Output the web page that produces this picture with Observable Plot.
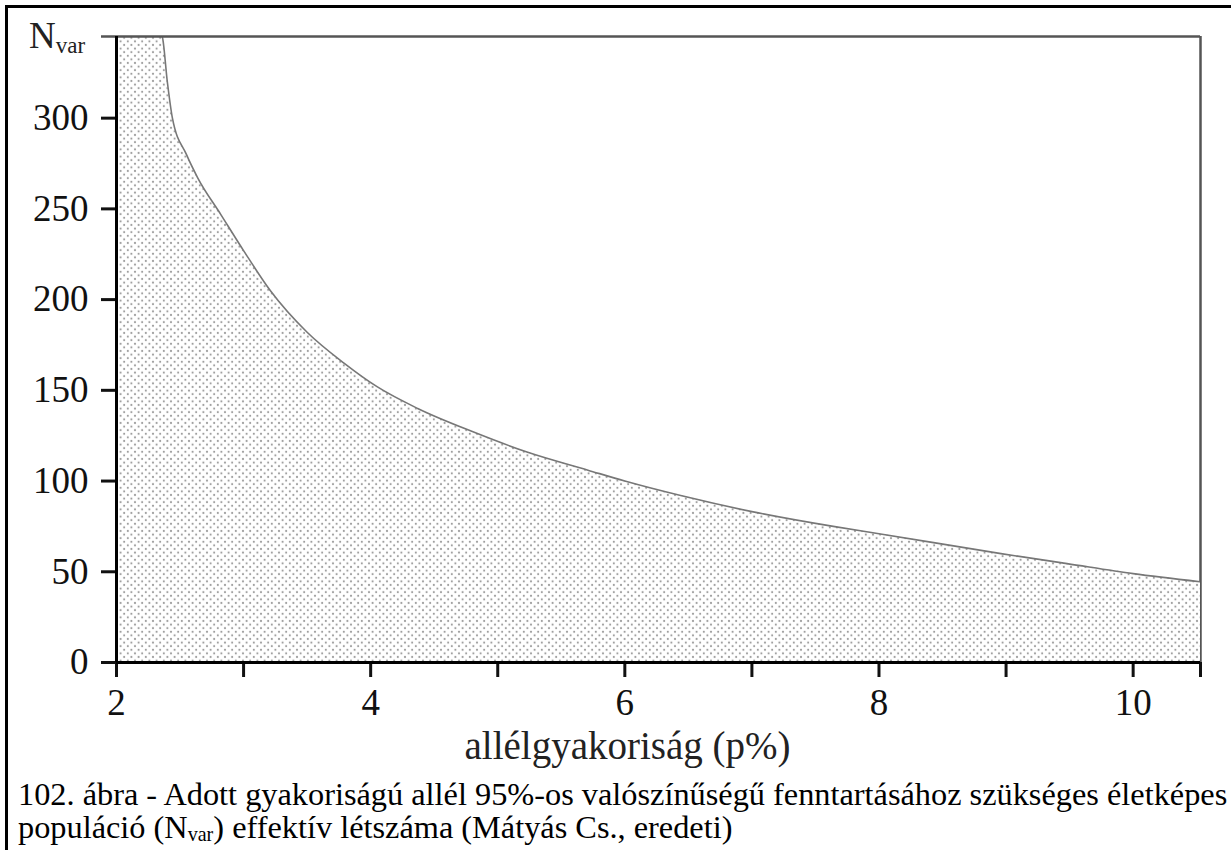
<!DOCTYPE html>
<html><head><meta charset="utf-8">
<script src="https://cdn.jsdelivr.net/npm/d3@7"></script>
<script src="https://cdn.jsdelivr.net/npm/@observablehq/plot@0.6"></script>
<style>
body{margin:0;background:#fff;}
#wrap{position:relative;width:1231px;height:850px;overflow:hidden;font-family:"Liberation Serif","Times New Roman",Times,"DejaVu Serif",serif;background:#fff;}
#frameTop{position:absolute;left:5px;top:5px;width:1226px;height:3px;background:#000;}
#frameLeft{position:absolute;left:5px;top:5px;width:3px;height:845px;background:#000;}
#chart{position:absolute;left:0;top:0;}
#caption{position:absolute;left:18px;top:778px;font-size:27px;line-height:33px;color:#000;white-space:nowrap;}
#caption sub{font-size:0.62em;vertical-align:-0.15em;line-height:0;}
</style></head>
<body>
<div id="wrap">
  <div id="chart"></div>
  <div id="frameTop"></div>
  <div id="frameLeft"></div>
  <div id="caption"><span id="capLine1">102. ábra - Adott gyakoriságú allél 95%-os valószínűségű fenntartásához szükséges életképes</span><br>populáció (N<sub>var</sub>) effektív létszáma (Mátyás Cs., eredeti)</div>
</div>
<script>
// allele frequency p% and required effective population size N_var
const pValues = [2.0, 2.36, 2.40, 2.44, 2.55, 2.64, 2.82, 3.00, 3.21, 3.50, 3.79, 4.05, 4.37, 4.81, 5.23, 5.71, 6.00, 6.44, 7.01, 7.64, 8.00, 8.96, 9.48, 10.00, 10.53];
const nVar    = [383, 345, 320, 300, 280, 267, 247, 227, 205, 182, 165, 152, 140, 127, 116, 106, 100, 92, 83, 75, 71, 60, 54.5, 49, 44.5];
const xTicks = [2, 3, 4, 5, 6, 7, 8, 9, 10, 10.53];
const xTickLabels = ["2", "", "4", "", "6", "", "8", "", "10", ""];
const yTicks = [0, 50, 100, 150, 200, 250, 300];
const yTickLabels = ["0", "50", "100", "150", "200", "250", "300"];
const xDomain = [2, 10.53];
const yDomain = [0, 345];
const xLabel = "allélgyakoriság (p%)";

const FONT = "'Liberation Serif', 'Times New Roman', Times, 'DejaVu Serif', serif";
const data = pValues.map((p, i) => ({p, n: nVar[i]}));
const xLabelOf = new Map(xTicks.map((t, i) => [t, xTickLabels[i]]));
const yLabelOf = new Map(yTicks.map((t, i) => [t, yTickLabels[i]]));

const svg = Plot.plot({
  width: 1231, height: 775,
  marginLeft: 116, marginRight: 31, marginTop: 36, marginBottom: 113,
  x: {domain: xDomain},
  y: {domain: yDomain},
  style: {fontFamily: FONT, fontSize: "37px", color: "#111", background: "transparent", overflow: "visible"},
  marks: [
    Plot.ruleX([xDomain[1]], {stroke: "#555", strokeWidth: 2.5}),
    Plot.areaY(data, {x: "p", y: "n", fill: "url(#stipple)", curve: "monotone-x", clip: true}),
    Plot.lineY(data, {x: "p", y: "n", stroke: "#777", strokeWidth: 1.6, curve: "monotone-x", clip: true}),
    Plot.ruleY([yDomain[1]], {stroke: "#555", strokeWidth: 2.5}),
    Plot.axisY({ticks: [yDomain[1]], tickSize: 15, stroke: "#555", strokeWidth: 2.5, tickFormat: () => "", label: null}),
    Plot.axisY({ticks: yTicks, tickSize: 15, tickPadding: 13, strokeWidth: 3, fontSize: 37, tickFormat: d => yLabelOf.get(d), label: null}),
    Plot.axisX({ticks: xTicks, tickSize: 15, tickPadding: 11, strokeWidth: 3, fontSize: 37, tickFormat: d => xLabelOf.get(d), label: null}),
    Plot.ruleX([xDomain[0]], {stroke: "#000", strokeWidth: 3}),
    Plot.ruleY([0], {stroke: "#000", strokeWidth: 3}),
    Plot.text([xLabel], {text: d => d, frameAnchor: "bottom", dx: -31, dy: 96, fontSize: 39, fill: "#222"})
  ]
});

// stipple pattern used by the area fill
const defs = d3.select(svg).insert("defs", ":first-child");
const S = 7.2;
const pat = defs.append("pattern").attr("id", "stipple").attr("patternUnits", "userSpaceOnUse").attr("width", S).attr("height", S);
pat.append("rect").attr("width", S).attr("height", S).attr("fill", "#fff");
pat.append("circle").attr("cx", 1.8).attr("cy", 1.8).attr("r", 1.05).attr("fill", "#9a9a9a");
pat.append("circle").attr("cx", 1.8 + S / 2).attr("cy", 1.8 + S / 2).attr("r", 1.05).attr("fill", "#9a9a9a");

// N_var label at the top of the y axis
const yTop = svg.scale("y").apply(yDomain[1]);
const lab = d3.select(svg).append("text").attr("x", 29).attr("y", yTop + 12)
  .attr("text-anchor", "start")
  .attr("font-family", FONT).attr("fill", "#222");
lab.append("tspan").attr("font-size", 37).text("N");
lab.append("tspan").attr("font-size", 23).attr("dy", 5).text("var");

document.getElementById("chart").appendChild(svg);

// fit the caption's first line to the reference width
const line1 = document.getElementById("capLine1");
const w = line1.getBoundingClientRect().width;
if (w > 0) document.getElementById("caption").style.fontSize = (27 * 1210 / w).toFixed(2) + "px";
</script>
</body></html>
